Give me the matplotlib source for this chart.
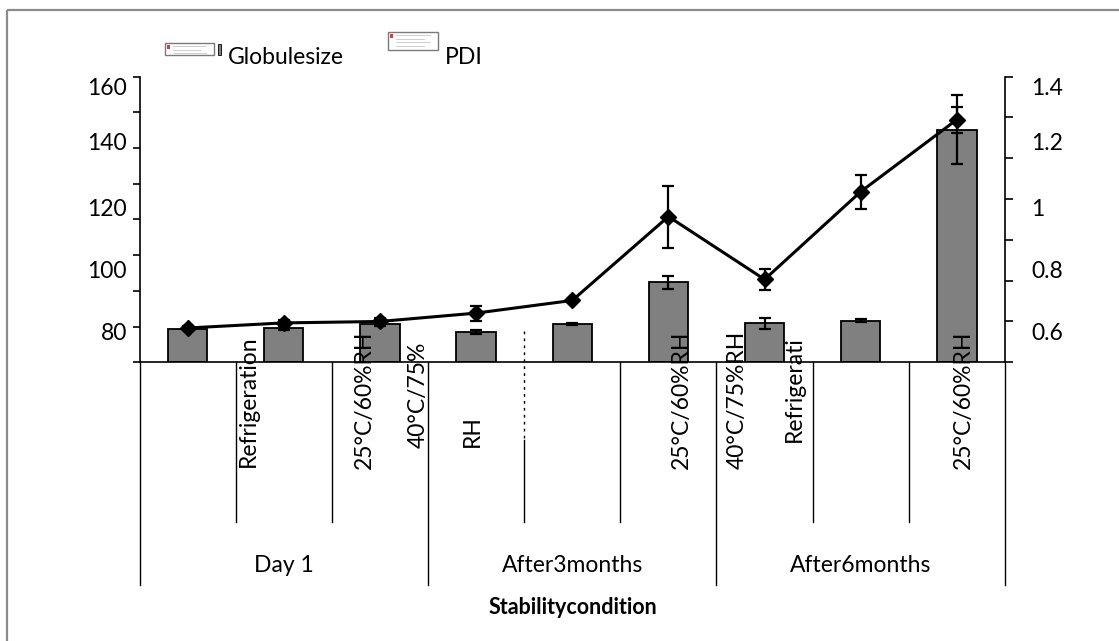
import matplotlib
matplotlib.use("Agg")
import matplotlib.pyplot as plt
import numpy as np
from matplotlib.patches import Rectangle

plt.rcParams["font.family"] = ["Lato", "DejaVu Sans"]

# Values (left axis 0-160, right axis 0-1.4).
groups = ["Day 1", "After3months", "After6months"]
globule_size = [18.4, 19.1, 21.2, 17.0, 21.5, 44.7, 21.9, 23.4, 130.3]
globule_err = [0.5, 1.2, 0.8, 1.0, 0.6, 3.8, 3.0, 0.6, 19.1]
pdi = [0.168, 0.193, 0.200, 0.241, 0.303, 0.714, 0.406, 0.836, 1.189]
pdi_err = [0.010, 0.012, 0.015, 0.037, 0.006, 0.152, 0.050, 0.083, 0.064]

# Axis labels as they are printed (misplaced in the original export).
left_tick_labels = ["160", "140", "120", "100", "80"]
right_tick_labels = ["1.4", "1.2", "1", "0.8", "0.6"]
# Condition labels as they survive in the picture.
condition_labels = ["Refrigeration", "25°C/60%RH", "40°C/75%", "RH",
                    "25°C/60%RH", "40°C/75%RH", "Refrigerati", "25°C/60%RH"]

# ---- layout (pixels of the 1119x641 picture) ----
W, H = 1119, 641
X0, X1, YT, YB = 139.5, 1005.0, 76.5, 362.3
label_y_px = [86.7, 141.0, 207.0, 270.0, 332.0]
cond_x_px = [248, 364, 418, 472, 681, 737, 794, 963]
cond_bottom_px = [467, 469, 448, 447, 469, 469, 442, 469]

FS = 16.5
fig = plt.figure(figsize=(W / 100, H / 100), dpi=100)
ax = fig.add_axes([X0 / W, (H - YB) / H, (X1 - X0) / W, (YB - YT) / H])
ax2 = ax.twinx()

x = np.arange(len(globule_size))
ax.set_xlim(-0.5, len(x) - 0.5)
ax.set_ylim(0, 160)
ax2.set_ylim(0, 1.4)

ax.bar(x, globule_size, width=0.41, color="#808080", edgecolor="black",
       linewidth=1.3, zorder=2)
ax.errorbar(x, globule_size, yerr=globule_err, fmt="none", ecolor="black",
            elinewidth=1.6, capsize=4.5, capthick=1.6, zorder=3)
ax2.errorbar(x, pdi, yerr=pdi_err, fmt="-D", color="black", lw=2.2, ms=8,
             elinewidth=1.6, capsize=4.5, capthick=1.6, zorder=4)

# spines
for a in (ax, ax2):
    a.spines["top"].set_visible(False)
    a.patch.set_visible(False)
ax.spines["right"].set_visible(False)
ax2.spines["left"].set_visible(False)
ax2.spines["bottom"].set_visible(False)
for s in (ax.spines["left"], ax.spines["bottom"], ax2.spines["right"]):
    s.set_linewidth(1.2)

ax.set_xticks([])

def px_to_frac(y):
    return (YB - y) / (YB - YT)

ax.set_yticks(np.arange(0, 161, 20))
ax.tick_params(axis="y", which="major", labelleft=False, length=5, width=1.2)
ax.set_yticks([px_to_frac(y) * 160 for y in label_y_px], labels=left_tick_labels, minor=True)
ax.tick_params(axis="y", which="minor", length=0, pad=9, labelsize=FS)

ax2.set_yticks(np.arange(0, 1.41, 0.2))
ax2.tick_params(axis="y", which="major", labelright=False, length=6, width=1.2)
ax2.set_yticks([px_to_frac(y) * 1.4 for y in label_y_px], labels=right_tick_labels, minor=True)
ax2.tick_params(axis="y", which="minor", length=0, pad=19, labelsize=FS)

# multi-level category axis drawn below the baseline
xt = ax.get_xaxis_transform()
inner_end = px_to_frac(522)
group_end = px_to_frac(585)
for b in np.arange(-0.5, len(x), 1.0):
    end = group_end if (b + 0.5) % 3 == 0 else inner_end
    start = px_to_frac(440) if b == 3.5 else 0
    ax.plot([b, b], [start, end], transform=xt, color="black", lw=1.0, clip_on=False)
# squeezed remnant of a clipped label on the 4th separator
ax.plot([3.5, 3.5], [px_to_frac(331), px_to_frac(440)], transform=xt, color="black",
        lw=1.0, ls=(0, (2, 3)), clip_on=False)

step = (X1 - X0) / len(x)
for txt, xp, yb in zip(condition_labels, cond_x_px, cond_bottom_px):
    ax.text((xp - X0) / step - 0.5, px_to_frac(yb), txt, rotation=90,
            ha="center", va="bottom", fontsize=FS, transform=xt, zorder=5)
for i, g in enumerate(groups):
    ax.text(3 * i + 1, px_to_frac(565), g, ha="center", va="center",
            fontsize=FS, transform=xt)

# overlay in picture pixels for frame, legend and axis title
ov = fig.add_axes([0, 0, 1, 1], zorder=-1)
ov.set_xlim(0, W)
ov.set_ylim(H, 0)
ov.axis("off")
ov.add_patch(Rectangle((7, 9.5), W + 20, H + 20, fill=False, edgecolor="#8c8c8c", lw=1.6))

ov.text(573, 608, "Stabilitycondition", ha="center", va="center",
        fontsize=15.5, fontweight="bold")

# legend (broken picture placeholders, as in the reference)
for (bx, by, bw, bh) in [(165, 43, 49, 12), (388, 32, 50, 18)]:
    ov.add_patch(Rectangle((bx, by), bw, bh, facecolor="white", edgecolor="#7a7a7a", lw=1.0))
    ov.add_patch(Rectangle((bx + 2, by + 2), 3, 4, facecolor="#d04040", edgecolor="none"))
    for k in range(int(bh // 4)):
        ov.plot([bx + 8, bx + bw - 8 - 6 * (k % 2)], [by + 3 + 3.5 * k] * 2,
                color="#c8c8c8", lw=0.6)
ov.add_patch(Rectangle((218, 44), 2.5, 11, facecolor="#808080", edgecolor="black", lw=0.6))
ov.text(228, 57, "Globulesize", ha="left", va="center", fontsize=FS)
ov.text(445, 57, "PDI", ha="left", va="center", fontsize=FS)

fig.savefig("out.png", dpi=100)
